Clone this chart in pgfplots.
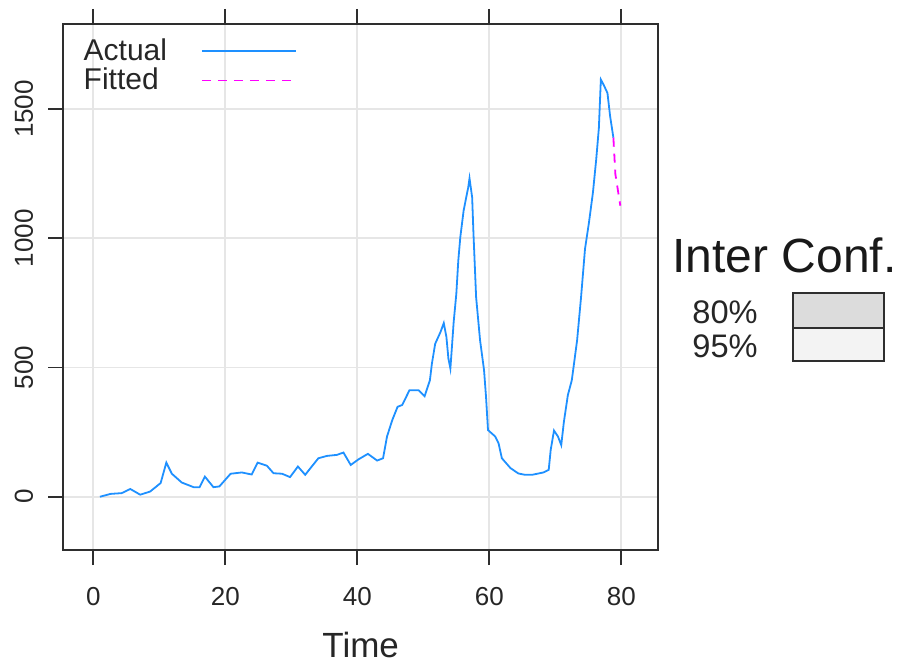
\documentclass[border=0pt]{standalone}
\usepackage{fontspec}
\setmainfont{Liberation Sans}
\usepackage{pgfplots}
\pgfplotsset{compat=1.18}

\definecolor{actual}{HTML}{1E90FF}
\definecolor{fitted}{HTML}{FF00FF}
\definecolor{gridgray}{HTML}{E6E6E6}
\definecolor{framegray}{HTML}{2E2E2E}
\definecolor{ci80}{HTML}{DCDCDC}
\definecolor{ci95}{HTML}{F3F3F3}

\begin{document}
\begin{tikzpicture}
\useasboundingbox (-31.65pt,-56pt) rectangle (417.35pt,275pt);
\begin{axis}[
    scale only axis,
    width=297.35pt, height=263pt,
    xmin=-4.55, xmax=85.56,
    ymin=-206, ymax=1829,
    xtick={0,20,40,60,80},
    ytick={0,500,1000,1500},
    axis line style={framegray, line width=0.9pt},
    tick style={framegray, line width=0.9pt},
    tick align=outside,
    major tick length=7.5pt,
    xtick pos=both, ytick pos=left,
    grid=major,
    major grid style={gridgray, line width=0.9pt},
    /pgf/number format/assume math mode=true,
    /pgf/number format/1000 sep={},
    ticklabel style={font=\fontsize{13}{15}\selectfont, text=black!85},
    xticklabel style={yshift=-7.5pt},
    yticklabel style={rotate=90, anchor=south, yshift=4pt},
    xlabel={Time},
    xlabel style={font=\fontsize{17.5}{20}\selectfont, text=black!85, yshift=-6.5pt},
    legend plot pos=right,
    legend cell align=left,
    legend image code/.code={\draw[#1] (0pt,0pt) -- (47pt,0pt);},
    legend style={draw=none, fill=none, at={(axis description cs:0,1)},
        anchor=north west, xshift=5pt, yshift=-3pt,
        font=\fontsize{15}{17}\selectfont, text=black!85,
        row sep=-1.5pt, column sep=15pt},
]
\addplot[actual, line width=0.9pt] coordinates {
(1,0) (2.6,11) (4.3,14) (5.6,30) (7.1,8) (8.6,20) (10.2,53) (11.06,132)
(11.9,89) (13.4,55) (15.2,37) (16.1,37) (16.9,78) (18.2,37) (19.1,40)
(20.8,89) (22.5,94) (24.0,86) (24.9,132) (26.3,120) (27.3,91) (28.6,89)
(29.8,76) (31.0,117) (32.1,85) (34.1,149) (35.4,158) (36.9,162) (37.9,171)
(39.0,123) (40.2,145) (41.6,166) (43.0,140) (43.9,149) (44.5,233) (45.3,297)
(46.1,348) (46.8,355) (47.9,412) (49.3,412) (50.2,389) (51.0,451) (51.3,515)
(51.8,592) (52.6,637) (53.1,672) (53.5,618) (53.8,535) (54.1,496) (54.3,567)
(54.6,676) (55.0,785) (55.3,914) (55.6,1003) (56.1,1106) (56.5,1158)
(56.8,1196) (57.0,1232) (57.4,1158) (57.6,1017) (58.0,772) (58.6,605)
(59.2,490) (59.5,387) (59.8,258) (60.9,233) (61.4,207) (61.9,149) (63.2,111)
(64.4,90) (65.4,85) (66.5,85) (68.2,94) (69.0,104) (69.3,181) (69.8,256)
(70.4,233) (70.9,200) (71.3,290) (71.9,393) (72.5,451) (73.3,605) (73.9,772)
(74.5,959) (75.1,1061) (75.7,1177) (76.2,1306) (76.6,1427) (76.9,1614)
(77.3,1595) (77.9,1562) (78.3,1473) (78.8,1389)
};
\addlegendentry{Actual}
\addplot[fitted, line width=0.9pt, dash pattern=on 4.5pt off 3.5pt] coordinates {
(78.8,1389) (79.1,1248) (79.5,1183) (79.85,1126)
};
\addlegendentry{Fitted}
\end{axis}
% confidence-interval key on the right
\node[anchor=base west, font=\fontsize{24}{28}\selectfont, text=black!90, inner sep=0pt]
    at (304.35pt,138.5pt) {Inter Conf.};
\node[anchor=base west, font=\fontsize{16.3}{19}\selectfont, text=black!85, inner sep=0pt]
    at (314.35pt,113pt) {80\%};
\node[anchor=base west, font=\fontsize{16.3}{19}\selectfont, text=black!85, inner sep=0pt]
    at (314.35pt,96pt) {95\%};
\filldraw[fill=ci80, draw=framegray, line width=0.9pt] (364.85pt,111pt) rectangle (410.35pt,128.5pt);
\filldraw[fill=ci95, draw=framegray, line width=0.9pt] (364.85pt,94.5pt) rectangle (410.35pt,111pt);
\end{tikzpicture}
\end{document}
